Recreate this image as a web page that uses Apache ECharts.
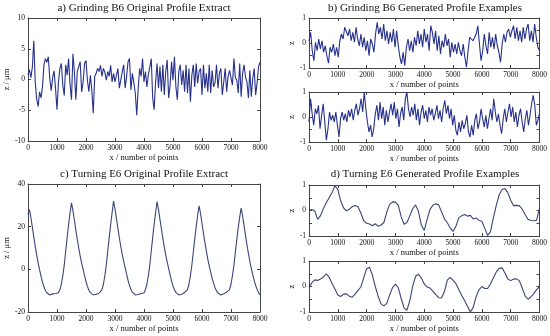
<!DOCTYPE html>
<html>
<head>
<meta charset="utf-8">
<script src="https://cdn.jsdelivr.net/npm/echarts@6/dist/echarts.min.js"></script>
<style>
html,body{margin:0;padding:0;background:#fff;}
#c{width:550px;height:336px;}
</style>
</head>
<body>
<div id="c"></div>
<script>
// ---- Data ----
const xTicks = [0, 1000, 2000, 3000, 4000, 5000, 6000, 7000, 8000];
const titles = [
  'a) Grinding B6 Original Profile Extract',
  'b) Grinding B6 Generated Profile Examples',
  'c) Turning E6 Original Profile Extract',
  'd) Turning E6 Generated Profile Examples'
];
const xName = 'x / number of points';
const yNameUm = 'z / \u03bcm';
const yNameZ = 'z';

// a) Grinding B6 original (µm), evenly spaced over 0..8000
const grindOrig = [0.8,1.6,0.3,2.0,6.3,-0.5,-3.2,-4.4,-2.0,-3.0,
-1.2,2.4,3.4,2.8,3.7,0.2,-1.8,0.3,1.4,-1.5,
-4.9,-0.4,1.8,2.6,-0.9,-2.6,2.4,0.7,3.4,-0.8,
-3.3,4.2,1.2,-3.3,1.3,1.0,2.9,-2.0,-0.4,2.6,
3.1,-0.2,-2.0,0.7,-1.7,-5.5,0.5,1.0,1.8,1.3,
2.3,0.5,1.8,1.2,-0.1,1.3,0.5,2.3,-0.4,1.0,
-0.4,0.7,1.8,-1.4,-0.1,1.3,2.4,-1.4,0.5,2.9,
3.4,-1.7,1.0,-0.5,-2.2,-5.8,-1.4,1.8,0.5,3.4,
-0.4,1.3,-1.2,0.8,2.0,3.4,-3.0,-4.9,-0.4,2.6,
-1.4,2.1,-2.0,2.4,-2.5,1.3,3.2,-3.0,-0.9,2.9,
-0.1,3.7,-1.2,-3.3,1.3,2.4,-0.9,1.5,-2.0,2.4,
-2.2,1.8,-3.6,0.7,2.4,-1.2,2.6,-0.6,1.3,1.8,
-2.5,2.4,-1.4,1.0,-2.0,2.4,-2.2,1.5,-1.2,-0.5,
2.4,-1.4,1.0,1.8,-2.5,-0.4,1.8,-2.0,0.5,1.5,
1.2,-0.9,3.4,0.3,-0.1,-2.2,2.6,-2.8,1.0,2.4,
0.4,-0.4,-3.0,1.5,-2.8,0.2,1.8,-2.5,-0.6,2.1,
2.8];

// b) Grinding B6 generated examples (normalised z)
const grindGen1 = [0.09,0.43,-0.31,-0.71,0.03,-0.31,0.16,-0.24,0.09,-0.37,
-0.11,-0.51,-0.81,-0.17,-0.37,-0.04,-0.51,-0.17,-0.57,0.09,
0.36,0.16,0.63,0.69,0.29,0.56,0.09,0.43,0.03,0.63,
0.16,-0.11,0.36,-0.17,0.23,-0.31,0.09,-0.51,0.16,-0.04,
-0.37,0.36,0.83,0.36,0.63,0.16,0.76,0.09,0.49,-0.04,
0.43,0.03,0.56,-0.17,0.49,-0.11,-0.57,-0.84,-0.37,-0.91,
-0.17,0.16,-0.31,0.09,-0.37,0.23,-0.11,0.49,-0.04,0.36,
-0.17,0.56,0.03,0.36,-0.31,0.69,0.43,-0.04,0.49,-0.31,
0.29,-0.44,0.09,-0.17,0.36,-0.11,0.16,-0.57,0.03,-0.37,
-0.04,-0.44,0.03,-0.31,-0.51,-0.04,-0.57,-0.97,-0.31,0.23,
0.29,0.09,0.16,0.36,0.69,-0.04,-0.71,-0.31,0.36,-0.11,
-0.44,0.43,-0.17,0.23,-0.24,0.36,-0.11,-0.37,-0.77,-0.04,
0.36,0.03,0.43,0.56,0.23,0.49,0.69,0.16,0.63,0.09,
0.49,0.03,0.63,0.16,0.56,0.76,0.09,0.49,0.03,0.76,
0.23,-0.17,-0.31];

const grindGen2 = [-0.2,0.73,0.13,-0.33,0.33,0.13,0.47,-0.47,0.07,0.53,
-0.2,-0.93,-0.47,0.2,-0.13,0.07,-0.2,0.2,-0.33,-0.8,
-0.07,0.2,-0.13,0.13,-0.2,0.27,0,0.33,-0.13,0.27,
0.53,0.07,0.33,0.73,0.2,1.0,0.33,-0.2,-0.6,-0.33,
-0.8,-0.47,0.13,0.47,-0.13,0.6,-0.07,0.4,-0.33,0.27,
-0.2,0.2,0.53,0.07,0.6,-0.07,0.33,-0.4,0.13,0.4,
-0.13,0.73,1.0,0.33,0,0.4,0.07,0.53,-0.13,0.33,
-0.33,0.2,0.47,-0.07,0.27,-0.2,0.4,0.07,0.33,-0.13,
0.13,0.47,-0.07,0.27,-0.2,0.33,0.67,0.13,0.47,-0.07,
0.33,-0.33,0.07,-0.53,-0.73,-0.2,-0.6,-0.13,-0.47,-0.27,
0.07,-0.6,-0.8,-0.33,-0.73,-0.13,0.13,-0.47,-0.2,0.33,
-0.07,-0.4,0.07,-0.47,-0.07,0.33,-0.13,0.73,0.2,-0.2,
0.13,-0.33,-0.67,-0.07,0.33,-0.2,0.2,0.53,0,0.4,
-0.2,0.2,-0.4,0.07,0.33,-0.2,-0.6,-0.07,0.27,-0.33,
0.07,0.53,0.87,0.47,-0.33,-0.13,0.13];

// c) Turning E6 original (µm), every 50 points
const turnOrig = [25.6,28,24.3,19.8,15.2,10.8,6.7,3,-0.3,-3.3,
-6,-8.2,-9.9,-11,-11.7,-12,-11.8,-11.5,-11.7,-11.3,
-10.8,-11.0,-9.6,-7,-3,2,8.5,15,21,26.5,
31.2,27.5,23,18.4,14,9.9,6.2,2.9,0,-3,
-5.7,-8,-9.8,-10.9,-11.6,-12,-12.2,-11.7,-11.8,-11.2,
-11.4,-9.5,-7,-3,2,8.5,15,21,26.5,32,
28.3,23.8,19.2,14.8,10.7,7,3.7,0.8,-2.3,-5.2,
-7.6,-9.5,-10.7,-11.5,-12,-12.2,-11.8,-11.9,-11.3,-10.7,
-11.1,-9.5,-7,-3,2,8.5,15,21,26.5,31.7,
28,23.5,18.9,14.5,10.4,6.7,3.4,0.5,-2.6,-5.4,
-7.8,-9.6,-10.8,-11.5,-12,-12.1,-11.7,-11.4,-10.9,-11.0,
-9.5,-7,-3,1.9,8.1,14.3,20.1,25.3,29.8,26.1,
21.6,17,12.6,8.5,4.8,1.5,-1.4,-4.2,-6.6,-8.6,
-10.1,-11.1,-11.7,-12,-11.8,-11.4,-11.6,-10.7,-10.6,-9.5,
-7,-3,1.9,7.9,13.9,19.5,24.5,28.75,25,20.5,
16,11.5,7.5,3.7,0.5,-2.5,-5.2,-7.5,-9.4,-10.9,
-12];

// d) Turning E6 generated examples, every 100 points
const turnGen1 = [0.0,0.04,-0.02,-0.35,-0.2,0.08,0.3,0.5,0.7,0.97,
0.82,0.38,0.1,-0.01,0.05,0.15,0.2,0.15,-0.1,-0.4,
-0.5,-0.53,-0.6,-0.52,-0.62,-0.57,-0.47,-0.06,0.24,0.34,
0.33,0.2,-0.25,-0.54,-0.47,-0.2,0.07,0.22,-0.04,-0.58,
-0.78,-0.35,0.04,0.21,0.26,0.22,-0.05,-0.33,-0.48,-0.68,
-0.82,-0.62,-0.28,-0.21,-0.16,-0.22,-0.19,-0.33,-0.29,-0.39,
-0.42,-0.7,-0.98,-0.83,-0.28,0.2,0.62,0.82,0.86,0.7,
0.4,0.19,0.2,0.19,0.05,-0.16,-0.34,-0.39,-0.4,-0.38,
0.08];

const turnGen2 = [-0.05,0.15,0.26,0.24,0.29,0.37,0.5,0.36,0.12,-0.1,
-0.33,-0.39,-0.3,-0.29,-0.38,-0.42,-0.3,-0.15,-0.02,0.35,
0.7,0.75,0.45,0.0,-0.38,-0.68,-0.76,-0.66,-0.33,-0.04,
0.09,-0.05,-0.47,-0.85,-0.93,-0.55,0.02,0.4,0.48,0.33,
0.1,-0.02,-0.06,-0.18,-0.32,-0.44,-0.45,-0.2,0.25,0.36,
0.24,0.11,-0.12,-0.35,-0.55,-0.77,-1.0,-0.82,-0.4,-0.13,
0.0,-0.08,-0.08,0.1,0.34,0.57,0.71,0.73,0.53,0.29,
0.23,0.29,0.3,0.23,-0.06,-0.37,-0.5,-0.41,-0.28,-0.12,
0.0];

// ---- Chart construction ----
const FONT = 'Liberation Serif';
const TXT = '#111';
const AX = '#444';
const grids = [
  {left: 28, top: 18, width: 232, height: 123},
  {left: 309, top: 18, width: 232, height: 50},
  {left: 309, top: 92, width: 232, height: 50},
  {left: 28, top: 184, width: 232, height: 128},
  {left: 309, top: 185, width: 232, height: 51},
  {left: 309, top: 261, width: 232, height: 51}
];
const panels = [
  {data: grindOrig, yMin: -10, yMax: 10, yInt: 5, yName: yNameUm, yGap: 17, color: '#27318c'},
  {data: grindGen1, yMin: -1, yMax: 1, yInt: 0.5, yName: yNameZ, yGap: 13, color: '#27318c'},
  {data: grindGen2, yMin: -1, yMax: 1, yInt: 0.5, yName: yNameZ, yGap: 13, color: '#27318c'},
  {data: turnOrig, yMin: -20, yMax: 40, yInt: 20, yName: yNameUm, yGap: 17, color: '#3b4675'},
  {data: turnGen1, yMin: -1, yMax: 1, yInt: 0.5, yName: yNameZ, yGap: 13, color: '#3b4675'},
  {data: turnGen2, yMin: -1, yMax: 1, yInt: 0.5, yName: yNameZ, yGap: 13, color: '#3b4675'}
];

const xAxes = [], yAxes = [], series = [];
const tick = {inside: true, length: 3, lineStyle: {color: AX, width: 1}};
const line = {onZero: false, lineStyle: {color: AX, width: 1}};
const plain = v => (Math.abs(v - Math.round(v)) < 1e-9 ? String(Math.round(v)) : '');
panels.forEach((p, gi) => {
  xAxes.push({
    gridIndex: gi, type: 'value', min: xTicks[0], max: xTicks[xTicks.length - 1],
    interval: xTicks[1] - xTicks[0], position: 'bottom',
    name: xName, nameLocation: 'middle', nameGap: 10,
    nameTextStyle: {fontFamily: FONT, fontSize: 8.5, color: TXT},
    axisLine: line, axisTick: tick,
    axisLabel: {margin: 3, fontFamily: FONT, fontSize: 7.5, color: TXT, formatter: plain},
    splitLine: {show: false}
  });
  xAxes.push({
    gridIndex: gi, type: 'value', min: xTicks[0], max: xTicks[xTicks.length - 1],
    interval: xTicks[1] - xTicks[0], position: 'top',
    axisLine: line, axisTick: tick, axisLabel: {show: false}, splitLine: {show: false}
  });
  yAxes.push({
    gridIndex: gi, type: 'value', min: p.yMin, max: p.yMax, interval: p.yInt, position: 'left',
    name: p.yName, nameLocation: 'middle', nameGap: p.yGap, nameRotate: 90,
    nameTextStyle: {fontFamily: FONT, fontSize: 8.5, color: TXT},
    axisLine: line, axisTick: tick,
    axisLabel: {margin: 3, fontFamily: FONT, fontSize: 7.5, color: TXT, formatter: plain},
    splitLine: {show: false}
  });
  yAxes.push({
    gridIndex: gi, type: 'value', min: p.yMin, max: p.yMax, interval: p.yInt, position: 'right',
    axisLine: line, axisTick: tick, axisLabel: {show: false}, splitLine: {show: false}
  });
  const n = p.data.length;
  series.push({
    type: 'line', xAxisIndex: 2 * gi, yAxisIndex: 2 * gi,
    data: p.data.map((v, i) => [xTicks[xTicks.length - 1] * i / (n - 1), v]),
    showSymbol: false, symbol: 'none', silent: true,
    lineStyle: {color: p.color, width: 1.1}
  });
});

const titleSpots = [
  {x: 144, y: 8}, {x: 425, y: 8}, {x: 144, y: 174}, {x: 425, y: 174}
];
const graphics = titles.map((t, i) => ({
  type: 'text', x: titleSpots[i].x, y: titleSpots[i].y, silent: true,
  style: {text: t, fontFamily: FONT, fontSize: 11, fill: TXT, align: 'center', verticalAlign: 'middle'}
}));

const chart = echarts.init(document.getElementById('c'), null, {renderer: 'canvas'});
chart.setOption({
  animation: false,
  backgroundColor: '#fff',
  grid: grids,
  xAxis: xAxes,
  yAxis: yAxes,
  series: series,
  graphic: graphics
});
</script>
</body>
</html>
